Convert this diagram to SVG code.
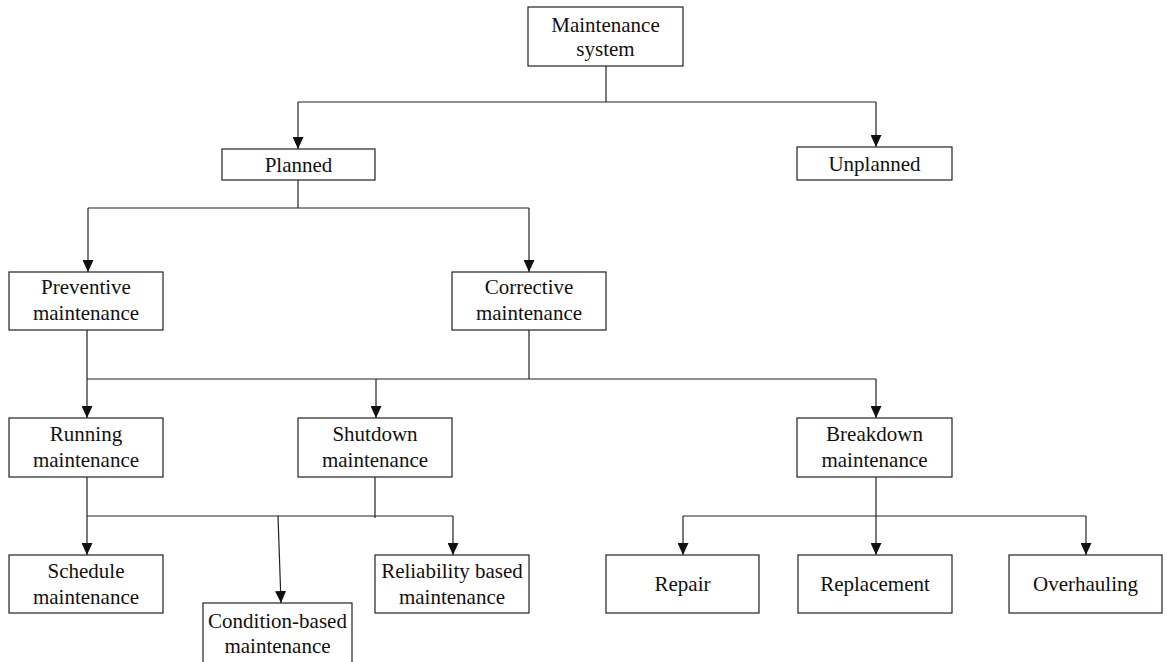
<svg xmlns="http://www.w3.org/2000/svg" width="1167" height="662" viewBox="0 0 1167 662">
<defs>
<style>
.box{fill:#fff;stroke:#222;stroke-width:1.2}
.t{font-family:'Liberation Serif','Times New Roman',Times,'DejaVu Serif',serif;font-size:21px;fill:#111;text-anchor:middle}
.c{fill:none;stroke:#222;stroke-width:1.2}
</style>
<marker id="ah" viewBox="0 0 12 11" refX="12" refY="5.5" markerWidth="12" markerHeight="11" markerUnits="userSpaceOnUse" orient="auto">
<path d="M0,0 L12,5.5 L0,11 z" fill="#111"/>
</marker>
</defs>
<rect width="1167" height="662" fill="#fff"/>
<g id="connectors">
<path class="c" d="M606,66 V102"/>
<path class="c" d="M298,102 H876"/>
<path class="c" d="M298,102 V149" marker-end="url(#ah)"/>
<path class="c" d="M876,102 V147" marker-end="url(#ah)"/>
<path class="c" d="M298,180 V208"/>
<path class="c" d="M88,208 H529"/>
<path class="c" d="M88,208 V272" marker-end="url(#ah)"/>
<path class="c" d="M529,208 V272" marker-end="url(#ah)"/>
<path class="c" d="M529,330 V379"/>
<path class="c" d="M87,379 H876"/>
<path class="c" d="M87,330 V418" marker-end="url(#ah)"/>
<path class="c" d="M376,379 V418" marker-end="url(#ah)"/>
<path class="c" d="M876,379 V418" marker-end="url(#ah)"/>
<path class="c" d="M87,516 H453"/>
<path class="c" d="M375,477 V518"/>
<path class="c" d="M87,477 V555" marker-end="url(#ah)"/>
<path class="c" d="M278,516 L281,603" marker-end="url(#ah)"/>
<path class="c" d="M453,516 V555" marker-end="url(#ah)"/>
<path class="c" d="M683,516 H1086"/>
<path class="c" d="M876,477 V555" marker-end="url(#ah)"/>
<path class="c" d="M683,516 V555" marker-end="url(#ah)"/>
<path class="c" d="M1086,516 V555" marker-end="url(#ah)"/>
</g>
<g font-family="Liberation Serif, Times New Roman, serif" font-size="21">
<g id="n-system"><rect class="box" x="528" y="7" width="155" height="59"/><text class="t" x="605.5" y="32">Maintenance</text><text class="t" x="605.5" y="56">system</text></g>
<g id="n-planned"><rect class="box" x="222" y="149" width="153" height="31"/><text class="t" x="298.5" y="172">Planned</text></g>
<g id="n-unplanned"><rect class="box" x="797" y="147" width="155" height="33"/><text class="t" x="874.5" y="171">Unplanned</text></g>
<g id="n-preventive"><rect class="box" x="9" y="272" width="154" height="58"/><text class="t" x="86" y="294">Preventive</text><text class="t" x="86" y="320">maintenance</text></g>
<g id="n-corrective"><rect class="box" x="452" y="272" width="154" height="58"/><text class="t" x="529" y="294">Corrective</text><text class="t" x="529" y="320">maintenance</text></g>
<g id="n-running"><rect class="box" x="9" y="418" width="154" height="59"/><text class="t" x="86" y="441">Running</text><text class="t" x="86" y="467">maintenance</text></g>
<g id="n-shutdown"><rect class="box" x="298" y="418" width="154" height="59"/><text class="t" x="375" y="441">Shutdown</text><text class="t" x="375" y="467">maintenance</text></g>
<g id="n-breakdown"><rect class="box" x="797" y="418" width="155" height="59"/><text class="t" x="874.5" y="441">Breakdown</text><text class="t" x="874.5" y="467">maintenance</text></g>
<g id="n-schedule"><rect class="box" x="9" y="555" width="154" height="58"/><text class="t" x="86" y="578">Schedule</text><text class="t" x="86" y="604">maintenance</text></g>
<g id="n-condition"><rect class="box" x="203" y="603" width="149" height="70"/><text class="t" x="277.5" y="628">Condition-based</text><text class="t" x="277.5" y="653">maintenance</text></g>
<g id="n-reliability"><rect class="box" x="375" y="555" width="154" height="58"/><text class="t" x="452" y="578">Reliability based</text><text class="t" x="452" y="604">maintenance</text></g>
<g id="n-repair"><rect class="box" x="606" y="555" width="153" height="58"/><text class="t" x="682.5" y="591">Repair</text></g>
<g id="n-replacement"><rect class="box" x="798" y="555" width="154" height="58"/><text class="t" x="875" y="591">Replacement</text></g>
<g id="n-overhauling"><rect class="box" x="1009" y="555" width="153" height="58"/><text class="t" x="1085.5" y="591">Overhauling</text></g>
</g>
</svg>
